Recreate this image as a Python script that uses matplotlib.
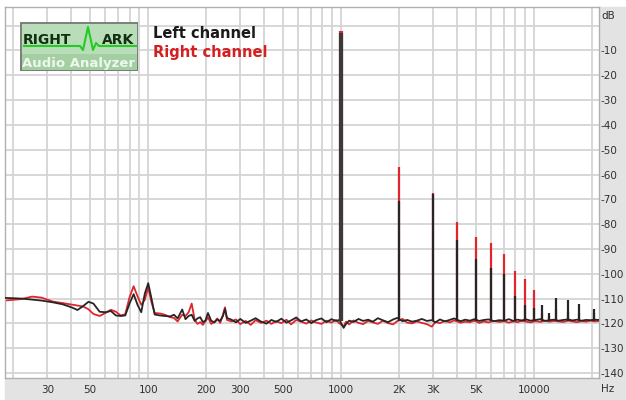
import matplotlib
matplotlib.use("Agg")
import matplotlib.pyplot as plt
from matplotlib.patches import Rectangle

# ---------------- data ----------------
# low frequency part (hum region)
freq_low = [18, 22, 25, 28, 32, 36, 40, 43, 46, 49,
            52, 56, 60, 64, 68, 72, 76, 80, 84, 88,
            92, 96, 100, 104, 108, 115, 122, 130, 136, 142,
            150, 156, 162, 168, 174, 180, 186, 192, 198, 204,
            212, 220, 228, 236, 244, 250, 256]
left_low = [-109.7, -110.0, -110.4, -110.8, -111.5, -112.3, -113.5, -114.6, -113.0, -111.3,
            -112.0, -115.3, -115.5, -115.0, -116.8, -117.0, -116.8, -112.0, -108.2, -112.5,
            -115.5, -108.0, -103.8, -110.0, -116.4, -116.8, -117.0, -117.2, -116.5, -118.0,
            -114.4, -118.3, -117.0, -116.5, -119.0, -118.0, -117.5, -119.5, -118.8, -115.8,
            -118.9, -119.6, -118.4, -119.0, -117.0, -114.2, -117.8]
right_low = [-110.8, -110.2, -109.2, -109.6, -111.2, -111.8, -112.4, -112.8, -113.2, -114.3,
             -116.2, -117.0, -115.8, -114.5, -115.3, -116.8, -116.3, -109.5, -105.0, -109.0,
             -112.5, -110.5, -105.5, -111.5, -115.8, -116.0, -116.5, -117.5, -117.8, -119.2,
             -116.5, -117.0, -115.5, -112.0, -118.5, -120.2, -119.5, -120.6, -119.2, -117.6,
             -120.2, -119.5, -118.0, -119.8, -116.5, -113.5, -118.6]

# noise floor above 250 Hz
freq_mid = [270, 285, 300, 320, 340, 360, 385, 410, 435, 460,
            490, 520, 550, 585, 620, 660, 700, 740, 790, 840,
            890, 940, 980, 1030, 1060, 1100, 1160, 1230, 1300, 1380,
            1460, 1550, 1650, 1750, 1860, 1950, 2080, 2200, 2330, 2470,
            2620, 2780, 2950, 3080, 3250, 3450, 3650, 3850, 4150, 4400,
            4650, 4900, 5200, 5500, 5800, 6200, 6600, 7000, 7400, 7800,
            8200, 8600, 9100, 9600, 10200, 10800, 11400, 12000, 12700, 13400,
            14200, 15000, 15800, 16700, 17600, 18600, 19600, 20500, 21700]
left_mid = [-118.5, -119.6, -118.2, -119.8, -118.9, -117.9, -119.3, -120.1, -118.6, -119.4,
            -118.1, -119.7, -118.8, -117.6, -119.2, -118.4, -119.9, -118.7, -118.0, -119.5,
            -118.3, -119.0, -118.6, -121.8, -120.2, -118.9, -119.4, -118.2, -119.0, -118.5,
            -119.3, -117.9, -118.8, -119.5, -118.4, -117.8, -119.1, -118.6, -119.3, -118.9,
            -118.2, -119.0, -118.7, -119.6, -118.4, -119.2, -118.6, -118.0, -119.1, -118.5,
            -118.9, -118.3, -119.0, -118.6, -118.4, -119.1, -118.7, -118.9, -118.3, -119.0,
            -118.5, -118.8, -118.4, -118.9, -118.6, -118.3, -119.0, -118.7, -118.5, -118.9,
            -118.6, -118.4, -118.8, -118.5, -118.9, -118.6, -118.7, -118.5, -118.6]
right_mid = [-119.2, -118.4, -120.3, -119.0, -120.6, -118.7, -119.8, -118.9, -120.2, -119.1,
             -119.9, -118.5, -120.4, -118.6, -119.3, -120.1, -118.8, -119.6, -120.2, -118.9,
             -119.7, -118.6, -120.0, -121.2, -119.3, -120.4, -118.8, -119.8, -120.3, -119.0,
             -119.6, -120.2, -118.9, -119.9, -120.4, -119.1, -118.2, -119.7, -120.0, -119.2,
             -119.8, -120.3, -121.3, -119.4, -119.9, -119.0, -119.6, -118.8, -119.7, -119.3,
             -119.5, -118.9, -119.8, -119.2, -119.6, -119.0, -119.4, -119.1, -119.7, -119.2,
             -119.5, -119.0, -119.3, -119.6, -119.1, -119.4, -118.9, -119.3, -119.0, -119.2,
             -119.4, -118.9, -119.2, -119.5, -119.1, -119.3, -118.9, -119.2, -119.0]

# 1 kHz tone and its harmonics
harm_freq = [1000, 2000, 3000, 4000, 5000, 6000, 7000, 8000,
             9000, 10000, 11000, 12000, 13000, 15000, 17000, 20500]
left_harm = [-2.8, -70.7, -68.0, -86.4, -94.2, -97.5, -99.9, -109.0,
             -112.4, -113.7, -112.4, -115.8, -109.7, -110.4, -112.0, -114.0]
right_harm = [-2.0, -56.9, -67.3, -79.0, -85.0, -87.5, -92.2, -98.9,
              -102.3, -106.7, -116.0, -117.0, -114.0, -115.5, -116.0, -116.0]
floor_level = -119.0

xtick_vals = [30, 50, 100, 200, 300, 500, 1000, 2000, 3000, 5000, 10000]
xtick_text = ["30", "50", "100", "200", "300", "500", "1000", "2K", "3K", "5K", "10000"]
ytick_vals = list(range(-10, -150, -10))

BLACK = "#262626"
RED = "#e0262c"
GRID = "#d4d4d4"
PANEL = "#e3e3e3"

# ---------------- figure ----------------
W, H = 626, 400
fig = plt.figure(figsize=(W / 100, H / 100), dpi=100, facecolor="white")

# gray panels behind the axis labels
fig.patches.append(Rectangle((599 / W, 0), 1 - 599 / W, 1 - 7 / H,
                             transform=fig.transFigure, color=PANEL, zorder=-10))
fig.patches.append(Rectangle((5 / W, 0), 1 - 5 / W, 22 / H,
                             transform=fig.transFigure, color=PANEL, zorder=-10))

ax = fig.add_axes([5 / W, 22 / H, 594 / W, 371 / H])
ax.set_xscale("log")
ax.set_xlim(18.1, 21700)
ax.set_ylim(-142, 7.5)

# grid
grid_f = [m * d for d in (10, 100, 1000, 10000) for m in range(1, 10)]
grid_f = [f for f in grid_f if 18.1 < f < 21700]
for f in grid_f:
    ax.axvline(f, color=GRID, lw=1.3, zorder=0)
for lv in range(0, -150, -10):
    ax.axhline(lv, color=GRID, lw=1.3, zorder=0)

# traces
fr = freq_low + freq_mid
ax.plot(fr, right_low + right_mid, color=RED, lw=1.3, zorder=2)
ax.vlines(harm_freq[1:], floor_level, right_harm[1:], color=RED, lw=1.6, zorder=3)
ax.vlines(harm_freq[:1], floor_level, right_harm[:1], color=RED, lw=3.0, zorder=3)
ax.plot(fr, left_low + left_mid, color=BLACK, lw=1.3, zorder=4)
ax.vlines(harm_freq[1:], floor_level, left_harm[1:], color=BLACK, lw=1.6, zorder=5)
ax.vlines(harm_freq[:1], floor_level, left_harm[:1], color="#3a3a3a", lw=3.0, zorder=5)

# ticks
ax.xaxis.set_minor_locator(matplotlib.ticker.NullLocator())
ax.set_xticks(xtick_vals)
ax.set_xticklabels(xtick_text)
ax.yaxis.tick_right()
ax.set_yticks(ytick_vals)
ax.set_yticklabels([str(v) for v in ytick_vals])
ax.tick_params(axis="both", length=0, labelsize=7.5, colors="#303030")
ax.tick_params(axis="x", pad=5)
ax.tick_params(axis="y", pad=1)
for s in ax.spines.values():
    s.set_color("#b0b0b0")
    s.set_linewidth(1)

fig.text(601 / W, 1 - 16 / H, "dB", fontsize=7.5, color="#303030", va="center", ha="left")
fig.text(601 / W, 1 - 389 / H, "Hz", fontsize=7.5, color="#303030", va="center", ha="left")

# legend text
fig.text(153 / W, 1 - 33 / H, "Left channel", fontsize=10.5, fontweight="bold",
         color="#1a1a1a", va="center")
fig.text(153 / W, 1 - 52 / H, "Right channel", fontsize=10.5, fontweight="bold",
         color="#d42020", va="center")

# RightMark logo
lg = fig.add_axes([20 / W, 1 - 71 / H, 118 / W, 49 / H])
lg.set_xlim(0, 118)
lg.set_ylim(49, 0)
lg.axis("off")
lg.add_patch(Rectangle((0, 0), 118, 49, facecolor="#b9dcb9", edgecolor="none"))
lg.add_patch(Rectangle((0, 32), 118, 17, facecolor="#a3cfa3", edgecolor="none"))
lg.add_patch(Rectangle((0.5, 0.5), 117, 48, facecolor="none", edgecolor="#707070", lw=1.2))
logo_wave_x = [4, 60, 63, 68, 73, 76, 79, 116]
logo_wave_y = [24, 24, 28, 5, 28, 21, 24, 24]
lg.plot(logo_wave_x, logo_wave_y, color="#22cc22", lw=1.5)
lg.text(3, 18, "RIGHT", fontsize=10, fontweight="bold", color="#103010", va="center")
lg.text(82, 18, "ARK", fontsize=10, fontweight="bold", color="#103010", va="center")
lg.text(59, 41, "Audio Analyzer", fontsize=9.5, fontweight="bold", color="#eef7ee",
        ha="center", va="center")

fig.savefig("out.png", dpi=100, facecolor="white")
